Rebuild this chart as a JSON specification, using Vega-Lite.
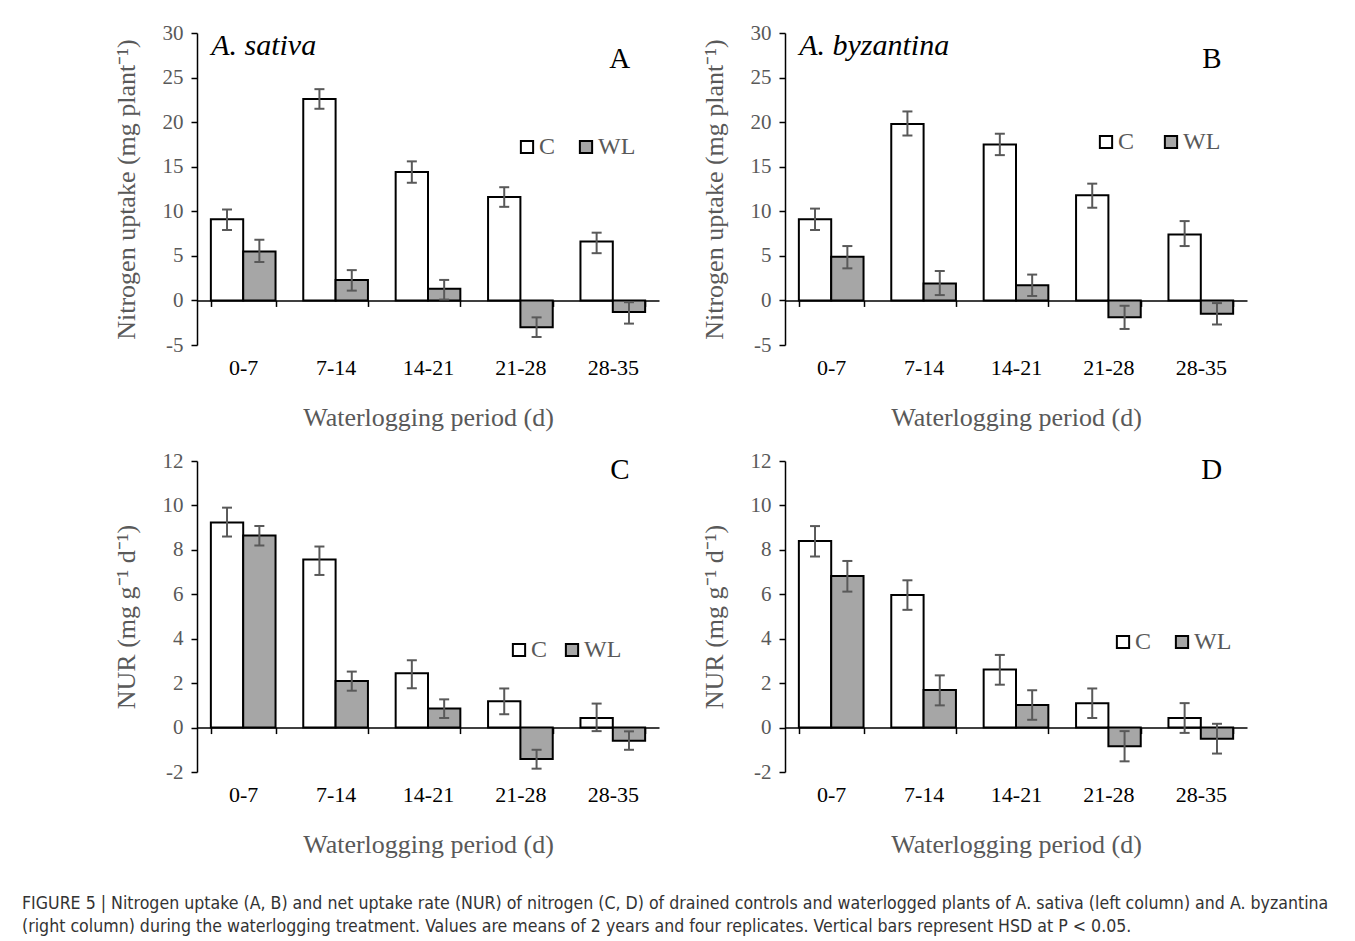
{
  "$schema": "https://vega.github.io/schema/vega-lite/v6.json",
  "background": "white",
  "padding": {"left": 22, "top": 22, "right": 5, "bottom": 5},
  "datasets": {
    "nitro": [
      {"panel": "A", "period": "0-7", "trt": "C", "value": 9.1, "lo": 7.9, "hi": 10.2},
      {"panel": "A", "period": "0-7", "trt": "WL", "value": 5.5, "lo": 4.3, "hi": 6.8},
      {"panel": "A", "period": "7-14", "trt": "C", "value": 22.6, "lo": 21.5, "hi": 23.7},
      {"panel": "A", "period": "7-14", "trt": "WL", "value": 2.3, "lo": 1.1, "hi": 3.4},
      {"panel": "A", "period": "14-21", "trt": "C", "value": 14.4, "lo": 13.2, "hi": 15.6},
      {"panel": "A", "period": "14-21", "trt": "WL", "value": 1.3, "lo": 0.1, "hi": 2.3},
      {"panel": "A", "period": "21-28", "trt": "C", "value": 11.6, "lo": 10.5, "hi": 12.7},
      {"panel": "A", "period": "21-28", "trt": "WL", "value": -3.0, "lo": -4.1, "hi": -1.9},
      {"panel": "A", "period": "28-35", "trt": "C", "value": 6.6, "lo": 5.3, "hi": 7.6},
      {"panel": "A", "period": "28-35", "trt": "WL", "value": -1.3, "lo": -2.6, "hi": -0.2},
      {"panel": "B", "period": "0-7", "trt": "C", "value": 9.1, "lo": 7.9, "hi": 10.3},
      {"panel": "B", "period": "0-7", "trt": "WL", "value": 4.9, "lo": 3.6, "hi": 6.1},
      {"panel": "B", "period": "7-14", "trt": "C", "value": 19.8, "lo": 18.5, "hi": 21.2},
      {"panel": "B", "period": "7-14", "trt": "WL", "value": 1.9, "lo": 0.6, "hi": 3.3},
      {"panel": "B", "period": "14-21", "trt": "C", "value": 17.5, "lo": 16.3, "hi": 18.7},
      {"panel": "B", "period": "14-21", "trt": "WL", "value": 1.7, "lo": 0.5, "hi": 2.9},
      {"panel": "B", "period": "21-28", "trt": "C", "value": 11.8, "lo": 10.4, "hi": 13.1},
      {"panel": "B", "period": "21-28", "trt": "WL", "value": -1.9, "lo": -3.2, "hi": -0.6},
      {"panel": "B", "period": "28-35", "trt": "C", "value": 7.4, "lo": 6.1, "hi": 8.9},
      {"panel": "B", "period": "28-35", "trt": "WL", "value": -1.5, "lo": -2.7, "hi": -0.3},
      {"panel": "C", "period": "0-7", "trt": "C", "value": 9.23, "lo": 8.6, "hi": 9.9},
      {"panel": "C", "period": "0-7", "trt": "WL", "value": 8.65, "lo": 8.2, "hi": 9.07},
      {"panel": "C", "period": "7-14", "trt": "C", "value": 7.57, "lo": 6.87, "hi": 8.15},
      {"panel": "C", "period": "7-14", "trt": "WL", "value": 2.1, "lo": 1.66, "hi": 2.52},
      {"panel": "C", "period": "14-21", "trt": "C", "value": 2.44, "lo": 1.77, "hi": 3.03},
      {"panel": "C", "period": "14-21", "trt": "WL", "value": 0.86, "lo": 0.43, "hi": 1.27},
      {"panel": "C", "period": "21-28", "trt": "C", "value": 1.18, "lo": 0.6, "hi": 1.76},
      {"panel": "C", "period": "21-28", "trt": "WL", "value": -1.42, "lo": -1.85, "hi": -1.0},
      {"panel": "C", "period": "28-35", "trt": "C", "value": 0.43, "lo": -0.16, "hi": 1.08},
      {"panel": "C", "period": "28-35", "trt": "WL", "value": -0.59, "lo": -1.0, "hi": -0.17},
      {"panel": "D", "period": "0-7", "trt": "C", "value": 8.4, "lo": 7.7, "hi": 9.07},
      {"panel": "D", "period": "0-7", "trt": "WL", "value": 6.82, "lo": 6.12, "hi": 7.5},
      {"panel": "D", "period": "7-14", "trt": "C", "value": 5.97, "lo": 5.3, "hi": 6.63},
      {"panel": "D", "period": "7-14", "trt": "WL", "value": 1.69, "lo": 1.0, "hi": 2.35},
      {"panel": "D", "period": "14-21", "trt": "C", "value": 2.61, "lo": 1.93, "hi": 3.27},
      {"panel": "D", "period": "14-21", "trt": "WL", "value": 1.02, "lo": 0.35, "hi": 1.68},
      {"panel": "D", "period": "21-28", "trt": "C", "value": 1.1, "lo": 0.43, "hi": 1.76},
      {"panel": "D", "period": "21-28", "trt": "WL", "value": -0.84, "lo": -1.52, "hi": -0.16},
      {"panel": "D", "period": "28-35", "trt": "C", "value": 0.43, "lo": -0.24, "hi": 1.1},
      {"panel": "D", "period": "28-35", "trt": "WL", "value": -0.5, "lo": -1.17, "hi": 0.17}
    ],
    "panels": [
      {"panel": "A", "species": "A. sativa", "letter": "A"},
      {"panel": "B", "species": "A. byzantina", "letter": "B"},
      {"panel": "C", "species": "", "letter": "C"},
      {"panel": "D", "species": "", "letter": "D"}
    ]
  },
  "title": {
    "text": [
      "FIGURE 5 | Nitrogen uptake (A, B) and net uptake rate (NUR) of nitrogen (C, D) of drained controls and waterlogged plants of A. sativa (left column) and A. byzantina",
      "(right column) during the waterlogging treatment. Values are means of 2 years and four replicates. Vertical bars represent HSD at P < 0.05."
    ],
    "orient": "bottom",
    "anchor": "start",
    "frame": "bounds",
    "dx": -91,
    "offset": 37,
    "font": "Liberation Sans Narrow, DejaVu Sans Condensed, Liberation Sans",
    "fontSize": 17.6,
    "fontWeight": "normal",
    "color": "#333333",
    "lineHeight": 23
  },
  "columns": 2,
  "spacing": {"row": 19, "column": 42},
  "resolve": {"scale": {"fill": "independent"}, "legend": {"fill": "independent"}},
  "concat": [
    {
      "width": 462, "height": 312,
      "data": {"name": "nitro"},
      "transform": [{"filter": "datum.panel == 'A'"}],
      "encoding": {
        "x": {"field": "period", "type": "nominal", "sort": ["0-7", "7-14", "14-21", "21-28", "28-35"],
          "scale": {"paddingInner": 0.3, "paddingOuter": 0.15},
          "axis": {"title": "Waterlogging period (d)", "offset": -44.57}}
      },
      "layer": [
        {"mark": {"type": "bar", "stroke": "#000000", "strokeWidth": 2},
          "encoding": {
            "xOffset": {"field": "trt", "type": "nominal", "scale": {"paddingInner": 0, "paddingOuter": 0}},
            "y": {"field": "value", "type": "quantitative", "scale": {"domain": [-5, 30], "nice": false, "zero": false},
              "axis": {"title": "Nitrogen uptake (mg plant⁻¹)", "values": [-5, 0, 5, 10, 15, 20, 25, 30]}},
            "fill": {"field": "trt", "type": "nominal", "scale": {"domain": ["C", "WL"], "range": ["#ffffff", "#a6a6a6"]},
              "legend": {"orient": "none", "legendX": 318, "legendY": 102, "columnPadding": 18}}
          }},
        {"mark": {"type": "rule", "color": "#595959", "strokeWidth": 2},
          "encoding": {"xOffset": {"field": "trt", "type": "nominal"}, "y": {"field": "lo", "type": "quantitative"}, "y2": {"field": "hi"}}},
        {"mark": {"type": "tick", "color": "#595959", "thickness": 2, "size": 10, "opacity": 1},
          "encoding": {"xOffset": {"field": "trt", "type": "nominal"}, "y": {"field": "lo", "type": "quantitative"}}},
        {"mark": {"type": "tick", "color": "#595959", "thickness": 2, "size": 10, "opacity": 1},
          "encoding": {"xOffset": {"field": "trt", "type": "nominal"}, "y": {"field": "hi", "type": "quantitative"}}},
        {"data": {"name": "panels"}, "transform": [{"filter": "datum.panel == 'A'"}],
          "mark": {"type": "text", "font": "Liberation Serif", "fontSize": 30, "fontStyle": "italic", "align": "left", "baseline": "alphabetic", "dx": -32, "color": "#000000"},
          "encoding": {"x": {"datum": "0-7"}, "y": {"datum": 27.5}, "text": {"field": "species"}}},
        {"data": {"name": "panels"}, "transform": [{"filter": "datum.panel == 'A'"}],
          "mark": {"type": "text", "font": "Liberation Serif", "fontSize": 29, "align": "center", "baseline": "middle", "dx": 7, "color": "#000000"},
          "encoding": {"x": {"datum": "28-35"}, "y": {"datum": 27.1}, "text": {"field": "letter"}}}
      ]
    },
    {
      "width": 462, "height": 312,
      "data": {"name": "nitro"},
      "transform": [{"filter": "datum.panel == 'B'"}],
      "encoding": {
        "x": {"field": "period", "type": "nominal", "sort": ["0-7", "7-14", "14-21", "21-28", "28-35"],
          "scale": {"paddingInner": 0.3, "paddingOuter": 0.15},
          "axis": {"title": "Waterlogging period (d)", "offset": -44.57}}
      },
      "layer": [
        {"mark": {"type": "bar", "stroke": "#000000", "strokeWidth": 2},
          "encoding": {
            "xOffset": {"field": "trt", "type": "nominal", "scale": {"paddingInner": 0, "paddingOuter": 0}},
            "y": {"field": "value", "type": "quantitative", "scale": {"domain": [-5, 30], "nice": false, "zero": false},
              "axis": {"title": "Nitrogen uptake (mg plant⁻¹)", "values": [-5, 0, 5, 10, 15, 20, 25, 30]}},
            "fill": {"field": "trt", "type": "nominal", "scale": {"domain": ["C", "WL"], "range": ["#ffffff", "#a6a6a6"]},
              "legend": {"orient": "none", "legendX": 309, "legendY": 97, "columnPadding": 24}}
          }},
        {"mark": {"type": "rule", "color": "#595959", "strokeWidth": 2},
          "encoding": {"xOffset": {"field": "trt", "type": "nominal"}, "y": {"field": "lo", "type": "quantitative"}, "y2": {"field": "hi"}}},
        {"mark": {"type": "tick", "color": "#595959", "thickness": 2, "size": 10, "opacity": 1},
          "encoding": {"xOffset": {"field": "trt", "type": "nominal"}, "y": {"field": "lo", "type": "quantitative"}}},
        {"mark": {"type": "tick", "color": "#595959", "thickness": 2, "size": 10, "opacity": 1},
          "encoding": {"xOffset": {"field": "trt", "type": "nominal"}, "y": {"field": "hi", "type": "quantitative"}}},
        {"data": {"name": "panels"}, "transform": [{"filter": "datum.panel == 'B'"}],
          "mark": {"type": "text", "font": "Liberation Serif", "fontSize": 30, "fontStyle": "italic", "align": "left", "baseline": "alphabetic", "dx": -32, "color": "#000000"},
          "encoding": {"x": {"datum": "0-7"}, "y": {"datum": 27.5}, "text": {"field": "species"}}},
        {"data": {"name": "panels"}, "transform": [{"filter": "datum.panel == 'B'"}],
          "mark": {"type": "text", "font": "Liberation Serif", "fontSize": 29, "align": "center", "baseline": "middle", "dx": 11, "color": "#000000"},
          "encoding": {"x": {"datum": "28-35"}, "y": {"datum": 27.1}, "text": {"field": "letter"}}}
      ]
    },
    {
      "width": 462, "height": 311,
      "data": {"name": "nitro"},
      "transform": [{"filter": "datum.panel == 'C'"}],
      "encoding": {
        "x": {"field": "period", "type": "nominal", "sort": ["0-7", "7-14", "14-21", "21-28", "28-35"],
          "scale": {"paddingInner": 0.3, "paddingOuter": 0.15},
          "axis": {"title": "Waterlogging period (d)", "offset": -44.43}}
      },
      "layer": [
        {"mark": {"type": "bar", "stroke": "#000000", "strokeWidth": 2},
          "encoding": {
            "xOffset": {"field": "trt", "type": "nominal", "scale": {"paddingInner": 0, "paddingOuter": 0}},
            "y": {"field": "value", "type": "quantitative", "scale": {"domain": [-2, 12], "nice": false, "zero": false},
              "axis": {"title": "NUR (mg g⁻¹ d⁻¹)", "values": [-2, 0, 2, 4, 6, 8, 10, 12]}},
            "fill": {"field": "trt", "type": "nominal", "scale": {"domain": ["C", "WL"], "range": ["#ffffff", "#a6a6a6"]},
              "legend": {"orient": "none", "legendX": 310, "legendY": 177, "columnPadding": 12}}
          }},
        {"mark": {"type": "rule", "color": "#595959", "strokeWidth": 2},
          "encoding": {"xOffset": {"field": "trt", "type": "nominal"}, "y": {"field": "lo", "type": "quantitative"}, "y2": {"field": "hi"}}},
        {"mark": {"type": "tick", "color": "#595959", "thickness": 2, "size": 10, "opacity": 1},
          "encoding": {"xOffset": {"field": "trt", "type": "nominal"}, "y": {"field": "lo", "type": "quantitative"}}},
        {"mark": {"type": "tick", "color": "#595959", "thickness": 2, "size": 10, "opacity": 1},
          "encoding": {"xOffset": {"field": "trt", "type": "nominal"}, "y": {"field": "hi", "type": "quantitative"}}},
        {"data": {"name": "panels"}, "transform": [{"filter": "datum.panel == 'C'"}],
          "mark": {"type": "text", "font": "Liberation Serif", "fontSize": 29, "align": "center", "baseline": "middle", "dx": 7, "color": "#000000"},
          "encoding": {"x": {"datum": "28-35"}, "y": {"datum": 11.6}, "text": {"field": "letter"}}}
      ]
    },
    {
      "width": 462, "height": 311,
      "data": {"name": "nitro"},
      "transform": [{"filter": "datum.panel == 'D'"}],
      "encoding": {
        "x": {"field": "period", "type": "nominal", "sort": ["0-7", "7-14", "14-21", "21-28", "28-35"],
          "scale": {"paddingInner": 0.3, "paddingOuter": 0.15},
          "axis": {"title": "Waterlogging period (d)", "offset": -44.43}}
      },
      "layer": [
        {"mark": {"type": "bar", "stroke": "#000000", "strokeWidth": 2},
          "encoding": {
            "xOffset": {"field": "trt", "type": "nominal", "scale": {"paddingInner": 0, "paddingOuter": 0}},
            "y": {"field": "value", "type": "quantitative", "scale": {"domain": [-2, 12], "nice": false, "zero": false},
              "axis": {"title": "NUR (mg g⁻¹ d⁻¹)", "values": [-2, 0, 2, 4, 6, 8, 10, 12]}},
            "fill": {"field": "trt", "type": "nominal", "scale": {"domain": ["C", "WL"], "range": ["#ffffff", "#a6a6a6"]},
              "legend": {"orient": "none", "legendX": 326, "legendY": 169, "columnPadding": 18}}
          }},
        {"mark": {"type": "rule", "color": "#595959", "strokeWidth": 2},
          "encoding": {"xOffset": {"field": "trt", "type": "nominal"}, "y": {"field": "lo", "type": "quantitative"}, "y2": {"field": "hi"}}},
        {"mark": {"type": "tick", "color": "#595959", "thickness": 2, "size": 10, "opacity": 1},
          "encoding": {"xOffset": {"field": "trt", "type": "nominal"}, "y": {"field": "lo", "type": "quantitative"}}},
        {"mark": {"type": "tick", "color": "#595959", "thickness": 2, "size": 10, "opacity": 1},
          "encoding": {"xOffset": {"field": "trt", "type": "nominal"}, "y": {"field": "hi", "type": "quantitative"}}},
        {"data": {"name": "panels"}, "transform": [{"filter": "datum.panel == 'D'"}],
          "mark": {"type": "text", "font": "Liberation Serif", "fontSize": 29, "align": "center", "baseline": "middle", "dx": 11, "color": "#000000"},
          "encoding": {"x": {"datum": "28-35"}, "y": {"datum": 11.6}, "text": {"field": "letter"}}}
      ]
    }
  ],
  "config": {
    "font": "Liberation Serif",
    "view": {"stroke": null},
    "axis": {"grid": false, "domainColor": "#000000", "domainWidth": 1.5, "tickColor": "#000000", "tickWidth": 1.5, "tickSize": 6,
      "labelFont": "Liberation Serif", "titleFont": "Liberation Serif", "titleFontWeight": "normal", "titleColor": "#595959", "titleFontSize": 26},
    "axisX": {"tickBand": "extent", "labelAngle": 0, "labelColor": "#000000", "labelFontSize": 22, "labelPadding": 51, "titlePadding": 26},
    "axisY": {"labelColor": "#595959", "labelFontSize": 21, "labelPadding": 8, "titlePadding": 23, "labelExpr": "toString(datum.value)"},
    "legend": {"title": null, "direction": "horizontal", "symbolType": "square", "symbolSize": 150, "symbolStrokeColor": "#000000", "symbolStrokeWidth": 2,
      "symbolOpacity": 1, "labelFont": "Liberation Serif", "labelFontSize": 24, "labelColor": "#595959", "labelOffset": 0, "padding": 0}
  }
}
